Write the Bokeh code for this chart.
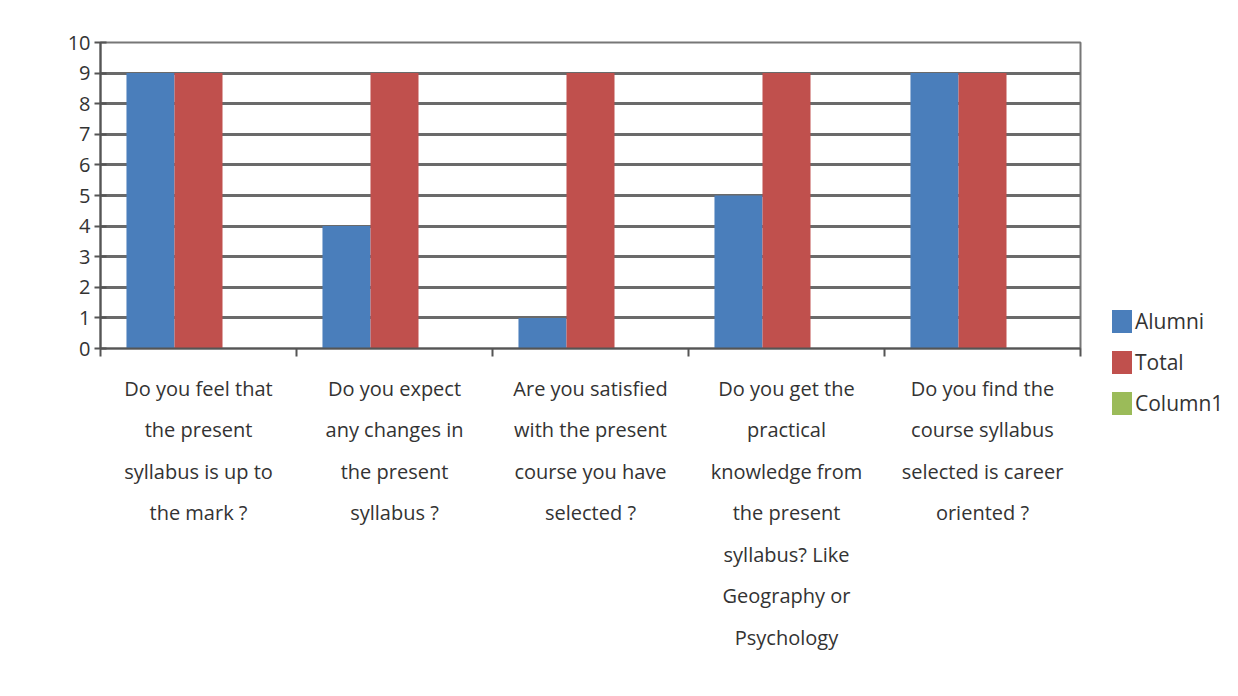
from bokeh.plotting import figure
from bokeh.models import (Range1d, LinearAxis, FixedTicker, ColumnDataSource, Div)
from bokeh.layouts import row
from bokeh.transform import dodge
from bokeh.embed import file_html
from bokeh.resources import INLINE

category_labels = [
    "Do you feel that\nthe present\nsyllabus is up to\nthe mark ?",
    "Do you expect\nany changes in\nthe present\nsyllabus ?",
    "Are you satisfied\nwith the present\ncourse you have\nselected ?",
    "Do you get the\npractical\nknowledge from\nthe present\nsyllabus? Like\nGeography or\nPsychology",
    "Do you find the\ncourse syllabus\nselected is career\noriented ?",
]
series_names = ["Alumni", "Total", "Column1"]
alumni = [9, 4, 1, 5, 9]
total = [9, 9, 9, 9, 9]
column1 = [0, 0, 0, 0, 0]
y_ticks = list(range(0, 11))

FONT = "Open Sans"
DARK = "#555555"
GRID = "#6a6a6a"
TEXT = "#333333"
COLORS = ["#4A7EBB", "#C0504D", "#9BBB59"]
FIELDS = ["alumni", "total", "column1"]

n = len(category_labels)
centers = [i + 0.5 for i in range(n)]
src = ColumnDataSource(dict(xc=centers, alumni=alumni, total=total, column1=column1))

H = 690
p = figure(width=1100, height=H, x_range=Range1d(0, n), y_range=Range1d(0, 10),
           output_backend="svg", toolbar_location=None, x_axis_location=None,
           y_axis_location=None, min_border_top=42, min_border_left=100, min_border_right=20,
           min_border_bottom=H - 348)

# y axis
yax = LinearAxis(ticker=FixedTicker(ticks=y_ticks), axis_line_color=DARK, axis_line_width=2,
                 major_tick_line_color=DARK, major_tick_line_width=2, major_tick_in=6,
                 major_tick_out=6, minor_tick_line_color=None, major_label_standoff=4,
                 major_label_text_font=FONT, major_label_text_font_size="20px",
                 major_label_text_color=TEXT)
p.add_layout(yax, "left")

# x tick axis (category boundaries)
bounds = list(range(n + 1))
tick_ax = LinearAxis(ticker=FixedTicker(ticks=bounds),
                     axis_line_color=DARK, axis_line_width=2, major_tick_line_color=DARK,
                     major_tick_line_width=2, major_tick_in=0, major_tick_out=8,
                     minor_tick_line_color=None, major_label_standoff=0,
                     major_label_overrides={b: "" for b in bounds})
p.add_layout(tick_ax, "below")

cat_ax = LinearAxis(ticker=FixedTicker(ticks=centers), axis_line_color=None,
                    major_tick_line_color=None, minor_tick_line_color=None,
                    major_label_standoff=12, major_label_text_font=FONT,
                    major_label_text_font_size="20px", major_label_text_color=TEXT,
                    major_label_text_line_height=1.54,
                    major_label_overrides=dict(zip(centers, category_labels)))
p.add_layout(cat_ax, "below")

p.ygrid.ticker = FixedTicker(ticks=y_ticks)
p.ygrid.grid_line_color = GRID
p.ygrid.grid_line_width = 3
p.xgrid.grid_line_color = None
p.outline_line_color = "#777777"
p.outline_line_width = 2

bw = 0.245
for off, fld, col in zip([-bw, 0.0, bw], FIELDS, COLORS):
    p.vbar(x=dodge("xc", off), top=fld, width=bw, source=src,
           fill_color=col, line_color=None)

# legend, built from the series names and colours, beside the chart
entries = "".join(
    f'<div style="display:flex;align-items:center;height:41px;">'
    f'<span style="display:inline-block;width:20px;height:23px;background:{col};'
    f'margin-right:3px;"></span>{name}</div>'
    for name, col in zip(series_names, COLORS))
legend_html = (f'<div style="margin-top:296px;margin-left:7px;font-family:\'{FONT}\';'
               f'font-size:21px;color:{TEXT};line-height:1;">{entries}</div>')
legend_div = Div(text=legend_html, width=130, height=H)

layout = row(p, legend_div, spacing=0)
open("out.html", "w").write(file_html(layout, INLINE))
